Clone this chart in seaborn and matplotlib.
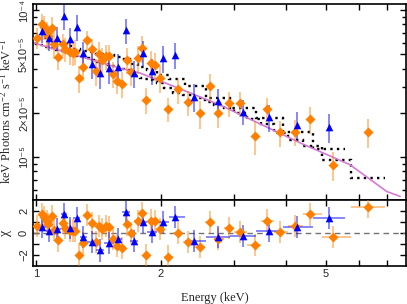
import numpy as np
import seaborn as sns
import matplotlib.pyplot as plt
from matplotlib.ticker import FixedLocator, NullLocator, NullFormatter

# ---------------- data (flux in units of 1e-5 photons keV cm^-2 s^-1 keV^-1) ----------------
orange_e = [1.007, 1.032, 1.047, 1.061, 1.071, 1.091, 1.105, 1.128, 1.160, 1.175,
            1.208, 1.226, 1.242, 1.272, 1.300, 1.329, 1.362, 1.393, 1.418, 1.445,
            1.475, 1.502, 1.535, 1.570, 1.609, 1.654, 1.691, 1.764, 1.801, 1.841,
            1.890, 1.935, 1.990, 2.076, 2.199, 2.324, 2.484, 2.626, 2.750, 2.918,
            3.101, 3.371, 3.603, 3.873, 4.208, 4.574, 5.205, 6.300]
orange_flux = [6.49, 8.04, 7.70, 6.95, 6.66, 7.58, 5.85, 4.78, 5.88, 5.44,
               5.21, 5.13, 5.21, 3.44, 4.08, 6.23, 5.41, 3.85, 5.03, 4.58,
               4.87, 4.87, 3.68, 3.31, 3.15, 4.58, 3.79, 4.70, 5.50, 2.45,
               4.35, 4.21, 3.44, 2.12, 2.89, 2.35, 1.99, 3.05, 1.99, 2.33,
               2.33, 1.40, 2.12, 1.47, 1.49, 1.81, 0.887, 1.49]
orange_err = [1.1, 1.4, 1.4, 1.3, 1.3, 1.4, 1.2, 0.9, 1.0, 1.0,
              1.0, 1.0, 1.0, 0.7, 0.8, 1.0, 0.95, 0.8, 1.0, 0.9,
              0.95, 0.95, 0.75, 0.63, 0.61, 0.9, 0.75, 1.0, 1.14, 0.5,
              0.94, 0.9, 0.7, 0.4, 0.58, 0.45, 0.43, 0.65, 0.42, 0.45,
              0.45, 0.37, 0.4, 0.3, 0.3, 0.38, 0.2, 0.33]
orange_model = [5.83, 5.74, 5.70, 5.63, 5.58, 5.52, 5.44, 5.35, 5.24, 5.19,
                5.11, 5.05, 4.99, 4.87, 4.80, 4.69, 4.58, 4.51, 4.44, 4.37,
                4.30, 4.23, 4.17, 4.07, 3.98, 3.88, 3.81, 3.56, 3.45, 3.40,
                3.32, 3.27, 3.17, 2.93, 2.73, 2.63, 2.53, 2.37, 2.25, 2.16,
                1.99, 1.81, 1.68, 1.46, 1.31, 1.18, 0.959, 0.720]
orange_chi = [0.6, 1.65, 1.4, 1.05, 0.8, 1.5, 0.27, -0.7, 0.9, 0.45,
              0.15, 0.2, 0.2, -2.0, -0.9, 1.6, 0.9, -0.85, 0.6, 0.3,
              0.6, 0.5, -0.6, -1.2, -1.35, 0.75, 0.0, 1.05, 1.8, -2.0,
              1.1, 1.05, 0.3, -2.15, 0.0, -0.8, -1.25, 1.0, -0.6, 0.4,
              0.05, -1.1, 1.1, 0.06, 0.6, 1.65, -0.4, 2.3]

blue_e = [1.032, 1.077, 1.125, 1.170, 1.208, 1.253, 1.300, 1.362, 1.426, 1.499,
          1.579, 1.648, 1.722, 1.808, 1.900, 2.020, 2.162, 2.407, 2.750, 3.148,
          3.649, 4.262, 5.090]
blue_flux = [7.24, 6.43, 6.49, 9.15, 6.36, 7.70, 5.08, 4.28, 3.72, 4.02,
             4.12, 7.31, 3.72, 5.13, 3.87, 4.70, 4.95, 2.58, 2.39, 2.04,
             1.87, 1.66, 1.61]
blue_err = [1.3, 1.2, 1.2, 1.8, 1.2, 1.5, 0.95, 0.9, 0.8, 0.9,
            0.9, 1.4, 0.75, 1.0, 0.8, 0.95, 1.0, 0.55, 0.5, 0.4,
            0.38, 0.36, 0.36]
blue_model = [6.46, 6.33, 6.11, 5.92, 5.70, 5.44, 5.27, 5.15, 5.03, 4.95,
              4.80, 4.65, 4.30, 4.12, 3.91, 3.62, 3.38, 3.05, 2.53, 2.15,
              1.84, 1.47, 1.14]
blue_chi = [0.5, 0.15, 0.3, 1.65, 0.4, 1.35, -0.36, -0.85, -1.6, -0.9,
            -0.6, 1.9, -0.75, 1.0, 0.06, 1.0, 1.4, -0.75, -0.36, -0.3,
            0.15, 0.5, 1.3]

# unfolded model curve
model_e = [0.9835, 1.594, 1.781, 2.103, 2.776, 4.327, 5.708, 7.00, 7.54]
model_flux = [6.00, 4.02, 3.73, 3.10, 2.26, 1.25, 0.887, 0.583, 0.540]

SCALE = 1e-5
ORANGE = "#ff8000"
BLUE = "#0000ff"


def bin_edges(e):
    e = np.asarray(e)
    mid = np.sqrt(e[1:] * e[:-1])
    return np.concatenate([[e[0] ** 2 / mid[0]], mid, [e[-1] ** 2 / mid[-1]]])


sns.set_style("ticks")
plt.rcParams["mathtext.fontset"] = "custom"
plt.rcParams["mathtext.rm"] = "Liberation Serif"
plt.rcParams["mathtext.it"] = "Liberation Serif:italic"
serif = ["Liberation Serif", "DejaVu Serif"]
sans = ["Liberation Sans", "DejaVu Sans"]

fig = plt.figure(figsize=(4.07, 3.04), dpi=100)
ax = fig.add_axes([0.0799, 0.342, 0.9165, 0.645])
ax2 = fig.add_axes([0.0799, 0.125, 0.9165, 0.217])

for a in (ax, ax2):
    a.set_xscale("log")
ax.set_yscale("log")

# ---------------- top panel ----------------
oe = np.asarray(orange_e)
be = np.asarray(blue_e)
of = np.asarray(orange_flux) * SCALE
bf = np.asarray(blue_flux) * SCALE

ax.stairs(np.asarray(orange_model) * SCALE, bin_edges(oe), baseline=None,
          color="k", lw=1.7, ls=(0, (1, 1.8)), zorder=2)
ax.stairs(np.asarray(blue_model) * SCALE, bin_edges(be), baseline=None,
          color="k", lw=1.7, ls=(0, (1, 1.8)), zorder=2)
sns.lineplot(x=model_e, y=np.asarray(model_flux) * SCALE, color="#d57ad5",
             lw=1.2, ax=ax, zorder=2)

ax.errorbar(oe, of, yerr=np.asarray(orange_err) * SCALE, fmt="none",
            ecolor=ORANGE, alpha=0.45, elinewidth=1.4, zorder=3)
ax.errorbar(be, bf, yerr=np.asarray(blue_err) * SCALE, fmt="none",
            ecolor=BLUE, alpha=0.55, elinewidth=1.2, zorder=3)
sns.scatterplot(x=oe, y=of, marker="D", color=ORANGE, s=26, linewidth=0,
                ax=ax, zorder=4)
sns.scatterplot(x=be, y=bf, marker="^", color=BLUE, s=30, linewidth=0,
                ax=ax, zorder=4)

ax.set_ylim(5.1e-6, 1.1e-4)
ax.set_yticks([1e-5, 2e-5, 5e-5, 1e-4],
              ["10\u207b\u2075", "2\u00d710\u207b\u2075", "5\u00d710\u207b\u2075", "10\u207b\u2074"],
              rotation=90, va="center", family=sans, fontsize=8)
ax.yaxis.set_minor_locator(FixedLocator([6e-6, 7e-6, 8e-6, 9e-6, 3e-5, 4e-5,
                                         6e-5, 7e-5, 8e-5, 9e-5]))
ax.yaxis.set_minor_formatter(NullFormatter())
ax.set_ylabel(r"keV Photons cm$^{-2}$ s$^{-1}$ keV$^{-1}$", family=serif, fontsize=9)
ax.yaxis.set_label_coords(-0.052, 0.45)

# ---------------- residual panel ----------------
ax2.axhline(0, color="0.45", lw=1, ls=(0, (4, 3)), zorder=1)
o_ed = bin_edges(oe)
b_ed = bin_edges(be)
ax2.errorbar(oe, orange_chi, yerr=1, xerr=[oe - o_ed[:-1], o_ed[1:] - oe], fmt="none",
             ecolor=ORANGE, alpha=0.45, elinewidth=1.4, zorder=3)
ax2.errorbar(be, blue_chi, yerr=1, xerr=[be - b_ed[:-1], b_ed[1:] - be], fmt="none",
             ecolor=BLUE, alpha=0.55, elinewidth=1.2, zorder=3)
sns.scatterplot(x=oe, y=orange_chi, marker="D", color=ORANGE, s=26, linewidth=0,
                ax=ax2, zorder=4)
sns.scatterplot(x=be, y=blue_chi, marker="^", color=BLUE, s=30, linewidth=0,
                ax=ax2, zorder=4)
ax2.set_ylim(-3.0, 2.95)
ax2.set_yticks([-2, -1, 0, 1, 2], ["\u22122", "", "0", "", "2"],
               rotation=90, va="center", family=sans, fontsize=8)
ax2.set_ylabel("\u03c7", family=serif, fontsize=10, rotation=90)
ax2.yaxis.set_label_coords(-0.055, 0.5)
ax2.set_xlabel("Energy (keV)", family=serif, fontsize=9)
ax2.xaxis.set_label_coords(0.49, -0.40)

# ---------------- shared x axis ----------------
for a in (ax, ax2):
    a.set_xlim(0.981, 7.77)
    a.set_xticks([1, 2, 3, 4, 5, 6, 7], ["1", "2", "", "", "5", "", ""],
                 family=sans, fontsize=8)
    a.xaxis.set_minor_locator(NullLocator())
    a.tick_params(which="both", direction="in", top=True, right=True,
                  width=1, color="k", pad=2.5)
    a.tick_params(which="major", length=4.3)
    a.tick_params(which="minor", length=2.9)
    for s in a.spines.values():
        s.set_linewidth(1.2)
        s.set_color("k")
ax.tick_params(labelbottom=False)

fig.savefig("out.png", dpi=100)
